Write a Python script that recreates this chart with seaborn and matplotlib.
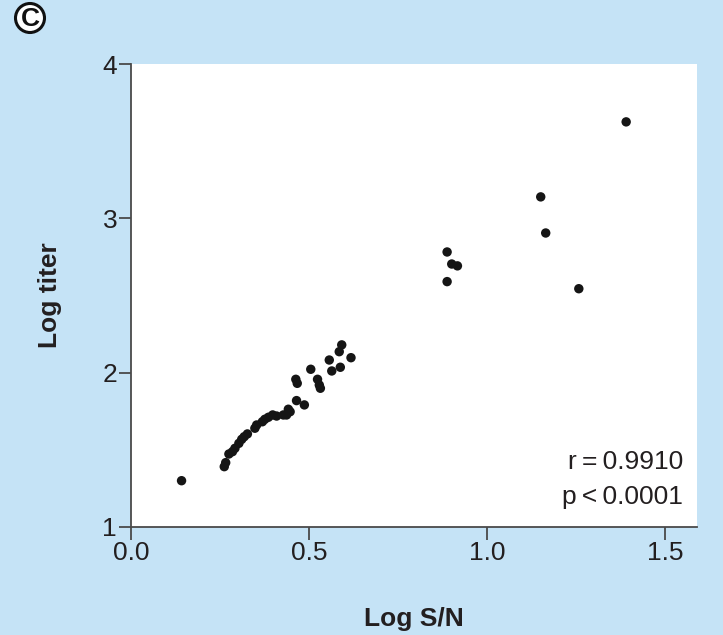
import matplotlib
matplotlib.use("Agg")
import matplotlib.pyplot as plt
import seaborn as sns
import pandas as pd
from matplotlib.patches import Ellipse

log_sn = [0.142, 0.262, 0.266, 0.275, 0.285, 0.292, 0.303, 0.311, 0.318, 0.327,
          0.348, 0.353, 0.369, 0.376, 0.386, 0.398, 0.409, 0.428, 0.437, 0.447,
          0.442, 0.465, 0.487, 0.463, 0.467, 0.505, 0.524, 0.529, 0.532, 0.557,
          0.564, 0.585, 0.592, 0.588, 0.618, 0.888, 0.901, 0.917, 0.888, 1.151,
          1.165, 1.258, 1.391]
log_titer = [1.300, 1.391, 1.417, 1.473, 1.488, 1.510, 1.542, 1.568, 1.585, 1.603,
             1.640, 1.661, 1.682, 1.698, 1.711, 1.726, 1.719, 1.726, 1.726, 1.747,
             1.763, 1.819, 1.791, 1.957, 1.931, 2.022, 1.957, 1.920, 1.899, 2.082,
             2.011, 2.136, 2.180, 2.035, 2.097, 2.782, 2.704, 2.692, 2.590, 3.139,
             2.905, 2.544, 3.625]
x_ticks = [0.0, 0.5, 1.0, 1.5]
x_tick_labels = ["0.0", "0.5", "1.0", "1.5"]
y_ticks = [1, 2, 3, 4]
y_tick_labels = ["1", "2", "3", "4"]

df = pd.DataFrame({"Log S/N": log_sn, "Log titer": log_titer})

sns.set_theme(style="white")
plt.rcParams["font.family"] = ["Liberation Sans", "DejaVu Sans"]

bg = "#C5E3F6"
txt = "#231F20"
fig = plt.figure(figsize=(7.23, 6.35), dpi=100, facecolor=bg)
ax = fig.add_axes([131 / 723, 1 - 527 / 635, (697 - 131) / 723, (527 - 64) / 635])
ax.set_facecolor("white")

sns.scatterplot(data=df, x="Log S/N", y="Log titer", ax=ax, color="#151515",
                s=46, edgecolor="none", linewidth=0, clip_on=False)

ax.set_xlim(0, 1.59)
ax.set_ylim(1, 4)
ax.set_xticks(x_ticks)
ax.set_xticklabels(x_tick_labels)
ax.set_yticks(y_ticks)
ax.set_yticklabels(y_tick_labels)
for s in ["top", "right"]:
    ax.spines[s].set_visible(False)
for s in ["left", "bottom"]:
    ax.spines[s].set_color("#4a4a4a")
    ax.spines[s].set_linewidth(1.3)
ax.tick_params(axis="both", direction="out", length=9, width=1.3, color="#4a4a4a",
               labelsize=19, labelcolor=txt, pad=1, bottom=True, left=True)
ax.set_xlabel("Log S/N", fontsize=19, fontweight="bold", color=txt, labelpad=30)
ax.set_ylabel("Log titer", fontsize=19, fontweight="bold", color=txt, labelpad=29)

ax.text(0.975, 0.140, "r\u2009=\u20090.9910", transform=ax.transAxes, ha="right",
        va="center", fontsize=19, color=txt)
ax.text(0.975, 0.065, "p\u2009<\u20090.0001", transform=ax.transAxes, ha="right",
        va="center", fontsize=19, color=txt)

# panel label
cx, cy = 30 / 723, 1 - 18 / 635
fig.patches.append(Ellipse((cx, cy), 29 / 723, 29 / 635, transform=fig.transFigure,
                           facecolor="white", edgecolor="#111111", linewidth=2.2))
fig.text(cx, cy - 0.001, "C", ha="center", va="center", fontsize=19,
         fontweight="bold", color="#111111")

fig.savefig("out.png", dpi=100, facecolor=bg)
